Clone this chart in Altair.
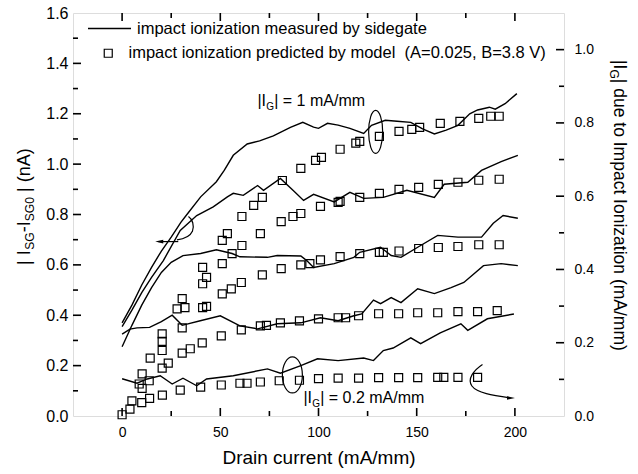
import altair as alt
import pandas as pd

FONT = "Liberation Sans"

# ---------------- data ----------------
# measured by sidegate (left axis, nA), five |I_G| levels
L1_x = [0, 5, 10, 15, 20, 25, 30, 33, 40, 48, 52, 56.6, 63.7, 70, 77, 85.7, 92, 97.5, 100, 104.6, 110, 116, 123, 127, 134, 140, 147, 153, 159, 165, 171, 177, 181, 187, 190, 195, 201]
L1_y = [0.37, 0.44, 0.52, 0.59, 0.655, 0.71, 0.77, 0.80, 0.87, 0.93, 0.975, 1.035, 1.08, 1.092, 1.112, 1.146, 1.166, 1.147, 1.142, 1.162, 1.155, 1.142, 1.122, 1.154, 1.174, 1.17, 1.166, 1.14, 1.12, 1.135, 1.154, 1.2, 1.215, 1.226, 1.218, 1.24, 1.28]
L2_x = [0, 5, 10, 15, 21, 29.6, 38, 46.4, 53.6, 56.6, 61.7, 69, 72, 80.6, 87, 92.4, 97.5, 108, 116, 123, 133, 145, 159, 164, 176, 183, 193, 201.5]
L2_y = [0.355, 0.42, 0.49, 0.55, 0.617, 0.737, 0.796, 0.83, 0.87, 0.884, 0.876, 0.915, 0.896, 0.943, 0.896, 0.856, 0.88, 0.85, 0.888, 0.864, 0.868, 0.896, 0.868, 0.92, 0.928, 0.975, 1.01, 1.035]
L3_x = [0, 5, 10, 15, 20, 25, 31, 40, 48, 56, 60, 74, 79, 91, 94, 97.5, 108, 118, 121, 131.6, 137, 142, 150.5, 160.7, 171, 183, 189, 194, 201.5]
L3_y = [0.275, 0.36, 0.44, 0.51, 0.57, 0.61, 0.637, 0.645, 0.66, 0.645, 0.632, 0.63, 0.637, 0.635, 0.617, 0.59, 0.605, 0.63, 0.65, 0.67, 0.637, 0.63, 0.67, 0.717, 0.71, 0.71, 0.765, 0.796, 0.785]
L4_x = [0, 4, 7.6, 14, 20, 25.5, 30.6, 39.8, 50, 60, 69, 79, 91, 101, 110, 118, 122, 128, 131.6, 137, 142, 150.5, 159, 167.5, 174, 184, 193, 201.5]
L4_y = [0.325, 0.345, 0.35, 0.352, 0.375, 0.40, 0.36, 0.378, 0.398, 0.358, 0.346, 0.366, 0.37, 0.39, 0.378, 0.398, 0.405, 0.46, 0.446, 0.47, 0.45, 0.505, 0.486, 0.51, 0.53, 0.597, 0.605, 0.597]
L5_x = [0, 7.6, 12.8, 19.4, 25.5, 31, 38, 43, 56.6, 74, 80.6, 91, 99.5, 110, 123, 128, 133, 138, 147, 152, 162, 172.5, 176, 186, 199.5]
L5_y = [0.148, 0.13, 0.147, 0.16, 0.127, 0.15, 0.12, 0.147, 0.16, 0.187, 0.17, 0.2, 0.227, 0.22, 0.23, 0.22, 0.26, 0.27, 0.31, 0.287, 0.33, 0.366, 0.34, 0.386, 0.405]

# predicted by model (squares), read in left-axis units
SQ_x = [0, 4, 5, 10, 14, 8.7, 10.2, 10.2, 13.8, 14.3, 20.4, 20.5, 20.4, 20.4, 20.4, 23.5, 28, 29.6, 30.6, 30.6, 30.6, 32, 34.7,
        40, 40.8, 41, 43, 41, 43, 41, 50.5, 50.5, 51, 51, 51, 53.6, 55.6, 56, 60, 63.6, 60.7, 60.7, 61, 61, 67,
        70.4, 70.4, 73.5, 71.4, 70.4, 71.4, 80, 80.6, 81, 81, 81.6, 87, 90.3, 90.3, 91, 91, 91, 95.6,
        98.5, 101.5, 111, 119, 121, 131, 141, 147.5, 151.5, 162, 172, 181.6, 187.7, 192,
        101, 110, 111, 121, 131, 141, 151, 161, 171, 181.6, 192,
        101, 111, 121, 131, 133, 141, 151, 161, 171, 181.6, 192,
        100, 110, 113.8, 120.4, 130.6, 140.8, 150.5, 160.7, 171, 181, 191,
        100, 110, 120.4, 130.6, 140.8, 150.5, 160.7, 163.8, 171, 181]
SQ_y = [0.005, 0.027, 0.06, 0.053, 0.07, 0.127, 0.11, 0.167, 0.14, 0.23, 0.19, 0.083, 0.26, 0.296, 0.326, 0.21, 0.425, 0.103, 0.25, 0.35, 0.466, 0.43, 0.267,
        0.115, 0.29, 0.43, 0.435, 0.525, 0.55, 0.59, 0.123, 0.318, 0.485, 0.605, 0.697, 0.724, 0.505, 0.645, 0.13, 0.13, 0.342, 0.53, 0.677, 0.792, 0.836,
        0.135, 0.358, 0.36, 0.56, 0.724, 0.868, 0.14, 0.37, 0.585, 0.772, 0.935, 0.792, 0.142, 0.378, 0.60, 0.804, 0.983, 0.605,
        1.015, 1.027, 1.059, 1.083, 1.09, 1.11, 1.13, 1.138, 1.146, 1.162, 1.17, 1.182, 1.19, 1.19,
        0.832, 0.848, 0.852, 0.868, 0.884, 0.9, 0.908, 0.92, 0.928, 0.936, 0.94,
        0.62, 0.633, 0.645, 0.65, 0.65, 0.655, 0.665, 0.669, 0.673, 0.68, 0.68,
        0.386, 0.39, 0.39, 0.398, 0.406, 0.406, 0.41, 0.41, 0.414, 0.414, 0.418,
        0.148, 0.15, 0.15, 0.152, 0.152, 0.152, 0.153, 0.153, 0.153, 0.153]

X_DOMAIN = [-25, 225]
YL_DOMAIN = [0, 1.6]
YR_DOMAIN = [0, 1.1]
X_MAJOR = [0, 50, 100, 150, 200]
X_MINOR = [25, 75, 125, 175]
YL_MAJOR = [0.0, 0.2, 0.4, 0.6, 0.8, 1.0, 1.2, 1.4, 1.6]
YL_TICKS_MAJOR = [0.2, 0.4, 0.6, 0.8, 1.0, 1.2, 1.4]
YL_MINOR = [0.1, 0.3, 0.5, 0.7, 0.9, 1.1, 1.3, 1.5]
YR_MAJOR = [0.0, 0.2, 0.4, 0.6, 0.8, 1.0]
YR_TICKS_MAJOR = [0.2, 0.4, 0.6, 0.8, 1.0]
YR_MINOR = [0.1, 0.3, 0.5, 0.7, 0.9]

LEG_LINE = "impact ionization measured by sidegate"
LEG_SQ = "impact ionization predicted by model\u00a0\u00a0(A=0.025, B=3.8 V)"
X_TITLE = "Drain current (mA/mm)"

W, H = 491, 403

# ---------------- scales ----------------
xs = alt.Scale(domain=X_DOMAIN, nice=False, zero=False)
yl = alt.Scale(domain=YL_DOMAIN, nice=False, zero=False)
yr = alt.Scale(domain=YR_DOMAIN, nice=False, zero=False)

rows = []
for name, xx, yy in [("L1", L1_x, L1_y), ("L2", L2_x, L2_y), ("L3", L3_x, L3_y), ("L4", L4_x, L4_y), ("L5", L5_x, L5_y)]:
    for a, b in zip(xx, yy):
        rows.append({"x": a, "y": b, "series": name, "k": LEG_LINE})
lines_df = pd.DataFrame(rows)
sq_df = pd.DataFrame({"x": SQ_x, "y": SQ_y, "k2": LEG_SQ})
dummy = pd.DataFrame({"x": [0.0], "y": [0.0]})

lab = dict(labelFont=FONT, labelColor="black", labelFlush=False, grid=False, domain=False)

lines = alt.Chart(lines_df).mark_line(strokeWidth=1.4).encode(
    x=alt.X("x:Q", scale=xs, axis=alt.Axis(values=X_MAJOR, ticks=False, tickSize=0, labelFontSize=14, labelPadding=9,
                                          title=X_TITLE, titleFont=FONT, titleFontSize=19, titleFontWeight="normal",
                                          titleColor="black", titlePadding=9, orient="bottom", **lab)),
    y=alt.Y("y:Q", scale=yl, axis=alt.Axis(values=YL_MAJOR, format=".1f", ticks=False, tickSize=0, labelFontSize=16,
                                          labelPadding=5, title=None, orient="left", **lab)),
    detail="series:N",
    stroke=alt.Stroke("k:N", scale=alt.Scale(range=["black"]),
                      legend=alt.Legend(title=None, orient="none", legendX=14, legendY=-7, symbolType="stroke",
                                        symbolSize=1849, symbolStrokeWidth=1.3, symbolStrokeColor="black",
                                        labelFont=FONT, labelFontSize=16.5, labelColor="black", labelOffset=5,
                                        labelLimit=700, padding=0)),
)

squares = alt.Chart(sq_df).mark_point(filled=False, size=64, strokeWidth=1.2, color="black", opacity=1).encode(
    x=alt.X("x:Q", scale=xs, axis=None),
    y=alt.Y("y:Q", scale=yl, axis=None),
    shape=alt.Shape("k2:N", scale=alt.Scale(range=["square"]),
                    legend=alt.Legend(title=None, orient="none", legendX=27, legendY=32, symbolSize=64,
                                      symbolStrokeColor="black", symbolStrokeWidth=1.2,
                                      labelFont=FONT, labelFontSize=16.5, labelColor="black", labelOffset=12,
                                      labelLimit=700, padding=0)),
)

right_labels = alt.Chart(dummy).mark_point(opacity=0, size=1).encode(
    x=alt.X("x:Q", scale=xs, axis=None),
    y=alt.Y("y:Q", scale=yr, axis=alt.Axis(values=YR_MAJOR, format=".1f", ticks=False, tickSize=0, labelFontSize=14,
                                          labelPadding=10, title=None, orient="right", **lab)),
)

# inward ticks: short open-path symbols sitting on the frame, placed through the data scales
TICK_UP = "M0,0 L0,-1"
TICK_DOWN = "M0,0 L0,1"
TICK_RIGHT = "M0,0 L1,0"
TICK_LEFT = "M0,0 L-1,0"
MAJ, MIN = 8, 5


def tick_pts(xvals, yvals, yscale, path, length):
    df = pd.DataFrame({"x": xvals, "y": yvals})
    return alt.Chart(df).mark_point(shape=path, size=(2 * length) ** 2, filled=False, color="black",
                                    strokeWidth=1.6, opacity=1).encode(
        x=alt.X("x:Q", scale=xs, axis=None), y=alt.Y("y:Q", scale=yscale, axis=None))


ticks = [
    tick_pts(X_MAJOR, [YL_DOMAIN[0]] * len(X_MAJOR), yl, TICK_UP, MAJ),
    tick_pts(X_MINOR, [YL_DOMAIN[0]] * len(X_MINOR), yl, TICK_UP, MIN),
    tick_pts(X_MAJOR, [YL_DOMAIN[1]] * len(X_MAJOR), yl, TICK_DOWN, MAJ),
    tick_pts(X_MINOR, [YL_DOMAIN[1]] * len(X_MINOR), yl, TICK_DOWN, MIN),
    tick_pts([X_DOMAIN[0]] * len(YL_TICKS_MAJOR), YL_TICKS_MAJOR, yl, TICK_RIGHT, MAJ),
    tick_pts([X_DOMAIN[0]] * len(YL_MINOR), YL_MINOR, yl, TICK_RIGHT, MIN),
    tick_pts([X_DOMAIN[1]] * len(YR_TICKS_MAJOR), YR_TICKS_MAJOR, yr, TICK_LEFT, MAJ),
    tick_pts([X_DOMAIN[1]] * len(YR_MINOR), YR_MINOR, yr, TICK_LEFT, MIN),
]


def data_text(text, x, y, dx=0, dy=0, size=16):
    return alt.Chart(pd.DataFrame({"x": [x], "y": [y]})).mark_text(
        text=text, align="left", baseline="alphabetic", dx=dx, dy=dy, fontSize=size, font=FONT, color="black"
    ).encode(x=alt.X("x:Q", scale=xs, axis=None), y=alt.Y("y:Q", scale=yl, axis=None))


def px_text(text, px, py, angle, dx=0, dy=0, size=18):
    return alt.Chart(dummy).mark_text(
        text=text, align="left", baseline="alphabetic", dx=dx, dy=dy, fontSize=size, font=FONT, color="black",
        angle=angle,
    ).encode(x=alt.value(px), y=alt.value(py))


def shape_mark(path, x, y, size, filled=False, sw=1.2):
    return alt.Chart(pd.DataFrame({"x": [x], "y": [y]})).mark_point(
        shape=path, size=size, filled=filled, color="black", strokeWidth=sw, opacity=1
    ).encode(x=alt.X("x:Q", scale=xs, axis=None), y=alt.Y("y:Q", scale=yl, axis=None))


ELL_TOP = "M0,-1 C0.18,-1 0.326,-0.552 0.326,0 C0.326,0.552 0.18,1 0,1 C-0.18,1 -0.326,0.552 -0.326,0 C-0.326,-0.552 -0.18,-1 0,-1 Z"
ELL_BOT = "M0,-1 C0.307,-1 0.556,-0.552 0.556,0 C0.556,0.552 0.307,1 0,1 C-0.307,1 -0.556,0.552 -0.556,0 C-0.556,-0.552 -0.307,-1 0,-1 Z"
ARC_LEFT = "M0.39,-1.09 C0.75,-0.85 0.95,-0.3 0.75,0.25 C0.55,0.7 0,0.95 -0.66,1.03"
CURVE_BR = "M-0.52,-0.83 C-0.95,-0.55 -1.3,-0.1 -1.05,0.25 C-0.8,0.6 0,0.72 0.85,0.84"
SHAFT = "M-1,0 L1,0"
HEAD_L = "M-1,0 L1,-0.45 L1,0.45 Z"
HEAD_R = "M1,0 L-1,-0.45 L-1,0.45 Z"

annots = [
    shape_mark(ELL_TOP, 129.1, 1.128, 1849),
    shape_mark(ELL_BOT, 86.7, 0.163, 1296),
    shape_mark(ARC_LEFT, 31.6, 0.744, 484),
    shape_mark(CURVE_BR, 188.8, 0.139, 1600),
    shape_mark(SHAFT, 23.5, 0.6925, 400),
    shape_mark(HEAD_L, 18.9, 0.6925, 64, filled=True),
    shape_mark(HEAD_R, 198.0, 0.0716, 64, filled=True),
    data_text("|I", 68.9, 1.23), data_text("G", 68.9, 1.23, dx=8.8, dy=4, size=10),
    data_text("| = 1 mA/mm", 68.9, 1.23, dx=16.8),
    data_text("|I", 92.3, 0.052), data_text("G", 92.3, 0.052, dx=8.8, dy=4, size=10),
    data_text("| = 0.2 mA/mm", 92.3, 0.052, dx=16.8),
    # left axis title  | I_SG - I_SG0 | (nA)
    px_text("| I", -43.5, 252, 270, size=18),
    px_text("SG", -43.5, 252, 270, dx=15.2, dy=4, size=12),
    px_text("-I", -43.5, 252, 270, dx=32.8, size=18),
    px_text("SG0", -43.5, 252, 270, dx=43.8, dy=4, size=12),
    px_text("| (nA)", -43.5, 252, 270, dx=73, size=18),
    # right axis title  |I_G| due to Impact Ionization (mA/mm)
    px_text("|I", 541, 47, 90, size=17.5),
    px_text("G", 541, 47, 90, dx=9.6, dy=4, size=12),
    px_text("| due to Impact Ionization (mA/mm)", 541, 47, 90, dx=18.8, size=17.5),
]

chart = alt.layer(right_labels, *ticks, lines, squares, *annots).resolve_scale(
    y="independent"
).resolve_axis(x="independent", y="independent").properties(
    width=W, height=H, autosize=alt.AutoSizeParams(type="none"),
    padding={"left": 73, "top": 13, "right": 74, "bottom": 58}, background="white",
).configure_view(stroke="black", strokeWidth=1.5).configure(font=FONT)

chart.save("out.html", embed_options={"renderer": "svg", "actions": False})
